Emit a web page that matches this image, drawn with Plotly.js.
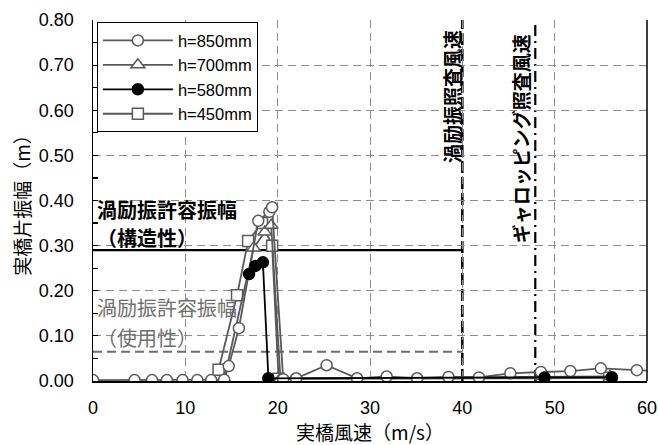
<!DOCTYPE html>
<html>
<head>
<meta charset="utf-8">
<script src="https://cdn.plot.ly/plotly-3.0.1.min.js"></script>
<style>html,body{margin:0;padding:0;background:#fff;}#chart{width:658px;height:445px;}</style>
</head>
<body>
<div id="chart"></div>
<script>
// ---- data ----
const h850_x = [0, 4.5, 6.4, 8.0, 9.7, 11.3, 12.8, 14.2, 14.7, 15.8, 17.9, 19.1, 19.4, 20.6, 22.0, 25.3, 28.6, 31.8, 35.1, 38.5, 41.8, 45.2, 48.5, 51.7, 55.0, 58.9, 62.0];
const h850_y = [0.002, 0.002, 0.002, 0.002, 0.002, 0.002, 0.002, 0.003, 0.033, 0.117, 0.355, 0.375, 0.385, 0.004, 0.006, 0.035, 0.006, 0.010, 0.006, 0.009, 0.008, 0.017, 0.020, 0.022, 0.028, 0.024, 0.021];
const h700_x = [14.2, 17.4, 18.6, 19.3, 20.3, 48.7, 56.0];
const h700_y = [0.004, 0.295, 0.330, 0.345, 0.005, 0.010, 0.010];
const h580_x = [16.9, 17.6, 18.4, 19.0, 48.9, 56.2];
const h580_y = [0.237, 0.255, 0.263, 0.006, 0.008, 0.008];
const h450_x = [13.6, 15.6, 16.8, 18.3, 19.4, 20.1, 48.6, 55.9];
const h450_y = [0.025, 0.190, 0.310, 0.350, 0.300, 0.005, 0.006, 0.007];

const seriesNames = ["h=850mm", "h=700mm", "h=580mm", "h=450mm"];
const allowAmp = [0.29, 0.065];          // 構造性, 使用性
const checkSpeed = [40, 47.9];           // 渦励振照査風速, ギャロッピング照査風速
const xTicks = [0, 10, 20, 30, 40, 50, 60];
const yTicks = [0, 0.1, 0.2, 0.3, 0.4, 0.5, 0.6, 0.7, 0.8];
const yTickText = ["0.00","0.10","0.20","0.30","0.40","0.50","0.60","0.70","0.80"];

const gray = "#595959";
const latin = "Liberation Sans, Arial, Noto Sans CJK JP, sans-serif";
const cjk = "Noto Sans CJK JP, sans-serif";

function tr(x, y, name, symbol, mcolor, lcolor, rank) {
  return {
    x: x, y: y, name: name, type: "scatter", mode: "lines+markers",
    line: {color: lcolor, width: 1.8},
    marker: {symbol: symbol, size: symbol === "triangle-up" ? 12 : 11, color: mcolor,
             line: {color: lcolor, width: 1.5}},
    legendrank: rank, cliponaxis: true
  };
}

const data = [
  tr(h450_x, h450_y, seriesNames[3], "square", "#fff", gray, 4),
  tr(h700_x, h700_y, seriesNames[1], "triangle-up", "#fff", gray, 2),
  tr(h850_x, h850_y, seriesNames[0], "circle", "#fff", gray, 1),
  tr(h580_x, h580_y, seriesNames[2], "circle", "#000", "#000", 3)
];

const layout = {
  width: 658, height: 445,
  margin: {l: 93, r: 11, t: 20, b: 64},
  paper_bgcolor: "#fff", plot_bgcolor: "#fff",
  font: {family: latin, color: "#000", size: 18},
  showlegend: true,
  legend: {x: 0.007, y: 0.994, xanchor: "left", yanchor: "top",
           bgcolor: "#fff", bordercolor: "#000", borderwidth: 1,
           font: {family: latin, size: 16.5, color: "#000"},
           itemwidth: 70, tracegroupgap: 0},
  xaxis: {
    range: [0, 60], tickvals: xTicks, ticktext: xTicks.map(String),
    showline: true, linecolor: "#000", linewidth: 2, mirror: false,
    showgrid: true, gridcolor: "#8c8c8c", gridwidth: 1, griddash: "8px,5px",
    zeroline: false, ticks: "", ticklabelstandoff: 9,
    tickfont: {family: latin, size: 18, color: "#000"},
    title: {text: "実橋風速（m/s）", font: {family: cjk, size: 19, color: "#000"}, standoff: 8}
  },
  yaxis: {
    range: [0, 0.8], tickvals: yTicks, ticktext: yTickText,
    showline: true, linecolor: "#000", linewidth: 1.5,
    showgrid: true, gridcolor: "#8c8c8c", gridwidth: 1, griddash: "8px,5px",
    zeroline: false, ticks: "inside", ticklen: 5, tickcolor: "#000", tickwidth: 1.2,
    minor: {dtick: 0.05, tick0: 0, ticks: "inside", ticklen: 5, tickcolor: "#000", tickwidth: 1.2, showgrid: false},
    ticklabelstandoff: 14,
    tickfont: {family: latin, size: 18, color: "#000"},
    title: {text: "実橋片振幅（m）", font: {family: cjk, size: 19, color: "#000"}, standoff: 3}
  },
  shapes: [
    {type: "line", xref: "x", yref: "y", x0: 0, x1: checkSpeed[0], y0: allowAmp[0], y1: allowAmp[0],
     line: {color: "#000", width: 2.2}, layer: "between"},
    {type: "line", xref: "x", yref: "y", x0: 0, x1: checkSpeed[0], y0: allowAmp[1], y1: allowAmp[1],
     line: {color: "#6e6e6e", width: 2, dash: "9px,5px"}, layer: "between"},
    {type: "line", xref: "x", yref: "paper", x0: checkSpeed[0], x1: checkSpeed[0], y0: 0, y1: 1,
     line: {color: "#000", width: 2.5, dash: "12px,4px"}, layer: "between"},
    {type: "line", xref: "x", yref: "paper", x0: checkSpeed[1], x1: checkSpeed[1], y0: 0, y1: 1,
     line: {color: "#000", width: 2.2, dash: "11px,5px,2px,5px"}, layer: "between"},
    {type: "line", xref: "paper", yref: "paper", x0: 1, x1: 1, y0: 0, y1: 1,
     line: {color: "#000", width: 1.5}, layer: "above"}
  ],
  annotations: [
    {xref: "paper", yref: "y", x: 0.004, y: 0.379, xanchor: "left", yanchor: "middle",
     text: "<b>渦励振許容振幅</b>", showarrow: false, font: {family: cjk, size: 20, color: "#000"}},
    {xref: "paper", yref: "y", x: 0.004, y: 0.317, xanchor: "left", yanchor: "middle",
     text: "<b>（構造性）</b>", showarrow: false, font: {family: cjk, size: 20, color: "#000"}},
    {xref: "paper", yref: "y", x: 0.004, y: 0.162, xanchor: "left", yanchor: "middle",
     text: "渦励振許容振幅", showarrow: false, font: {family: cjk, size: 20, color: "#707070"}},
    {xref: "paper", yref: "y", x: 0.004, y: 0.097, xanchor: "left", yanchor: "middle",
     text: "（使用性）", showarrow: false, font: {family: cjk, size: 20, color: "#707070"}},
    {xref: "x", yref: "y", x: 38.9, y: 0.63, xanchor: "center", yanchor: "middle", textangle: -90,
     text: "<b>渦励振照査風速</b>", showarrow: false, font: {family: cjk, size: 19, color: "#000"}},
    {xref: "x", yref: "y", x: 46.3, y: 0.537, xanchor: "center", yanchor: "middle", textangle: -90,
     text: "<b>ギャロッピング照査風速</b>", showarrow: false, font: {family: cjk, size: 19, color: "#000"}}
  ]
};

Plotly.newPlot("chart", data, layout, {displayModeBar: false, staticPlot: true});
</script>
</body>
</html>
